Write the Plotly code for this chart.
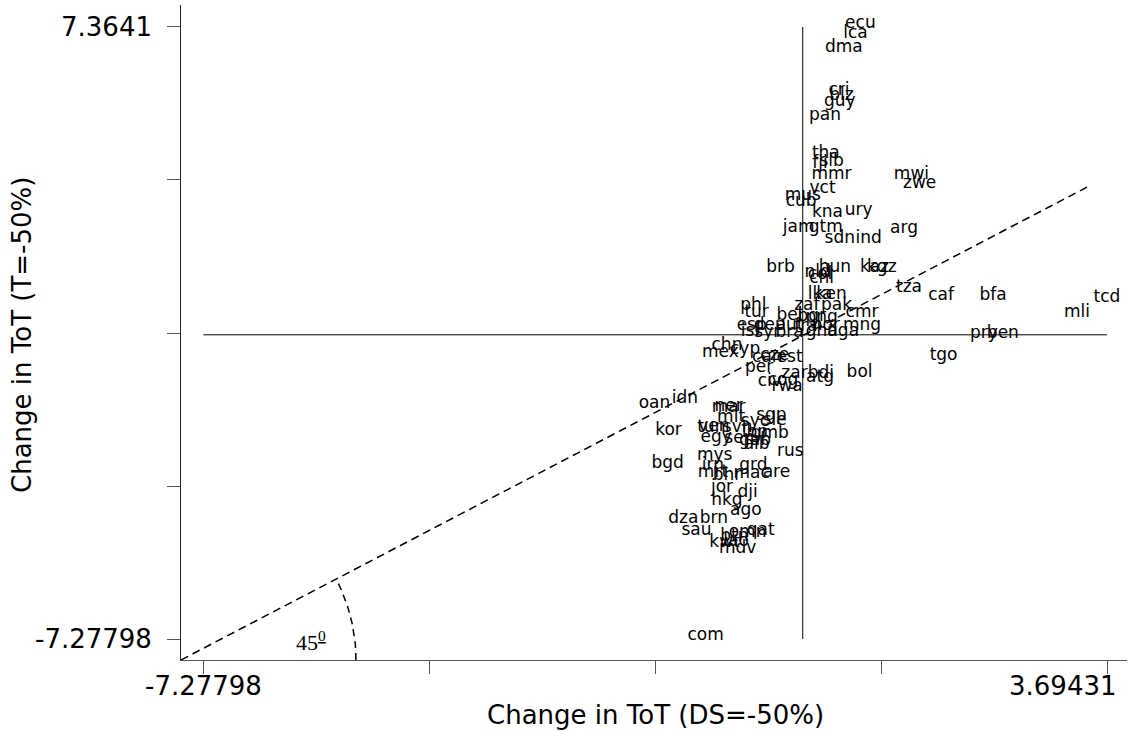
import numpy as np
import plotly.graph_objects as go

# ---- data: country codes, change in ToT under DS=-50% (x) and T=-50% (y)
codes = ["ecu", "lca", "dma", "cri", "blz", "guy", "pan", "tha", "fji", "slb",
         "mmr", "vct", "mus", "cub", "kna", "ury", "jam", "gtm", "sdn", "ind",
         "arg", "mwi", "zwe", "brb", "hun", "nld", "col", "kaz", "kgz", "chl",
         "lka", "ken", "phl", "zaf", "pak", "cmr", "tur", "bel", "bgr", "png",
         "esp", "deu", "aut", "fra", "nor", "mng", "isl", "syr", "bra", "uga",
         "gha", "chn", "mex", "cyp", "can", "cze", "est", "per", "zar", "bdi",
         "atg", "bol", "civ", "cog", "rwa", "oan", "idn", "mar", "ner", "mlt",
         "sgp", "sle", "syc", "tun", "ven", "kor", "svn", "gmb", "lbn", "egy",
         "sen", "gab", "alb", "rus", "mys", "bgd", "irn", "mrt", "grd", "are",
         "mac", "bhr", "jor", "dji", "hkg", "ago", "dza", "brn", "sau", "qat",
         "omn", "btn", "kwt", "mdv", "lao", "tza", "caf", "bfa", "tcd", "mli",
         "pry", "ben", "tgo", "com"]

x_ds = [0.70, 0.64, 0.50, 0.44, 0.47, 0.45, 0.27, 0.28, 0.21, 0.35,
        0.35, 0.24, 0.00, -0.02, 0.30, 0.68, -0.05, 0.28, 0.45, 0.80,
        1.23, 1.32, 1.42, -0.27, 0.39, 0.18, 0.21, 0.87, 0.96, 0.23,
        0.21, 0.35, -0.60, 0.05, 0.41, 0.72, -0.56, -0.16, 0.11, 0.23,
        -0.62, -0.40, -0.16, 0.04, 0.28, 0.72, -0.64, -0.43, -0.16, 0.49,
        0.23, -0.92, -1.00, -0.70, -0.43, -0.34, -0.16, -0.53, -0.10, 0.22,
        0.21, 0.69, -0.40, -0.24, -0.19, -1.80, -1.43, -0.90, -0.90, -0.87,
        -0.38, -0.34, -0.58, -1.11, -1.08, -1.63, -0.79, -0.40, -0.58, -1.05,
        -0.77, -0.58, -0.56, -0.15, -1.07, -1.64, -1.09, -1.09, -0.60, -0.32,
        -0.62, -0.92, -0.98, -0.67, -0.92, -0.69, -1.45, -1.08, -1.29, -0.51,
        -0.67, -0.83, -0.95, -0.79, -0.81, 1.29, 1.68, 2.31, 3.69431, 3.33,
        2.20, 2.43, 1.71, -1.18]

y_t = [7.3641, 7.12, 6.79, 5.76, 5.64, 5.50, 5.16, 4.25, 4.01, 4.06,
       3.75, 3.42, 3.25, 3.11, 2.84, 2.89, 2.48, 2.48, 2.22, 2.22,
       2.46, 3.75, 3.54, 1.53, 1.53, 1.41, 1.36, 1.53, 1.53, 1.26,
       0.88, 0.88, 0.62, 0.62, 0.62, 0.45, 0.45, 0.38, 0.35, 0.33,
       0.14, 0.14, 0.14, 0.11, 0.14, 0.14, -0.01, -0.03, -0.03, -0.01,
       -0.01, -0.34, -0.51, -0.44, -0.63, -0.58, -0.63, -0.87, -1.01, -1.01,
       -1.11, -0.99, -1.20, -1.18, -1.32, -1.73, -1.61, -1.82, -1.80, -2.06,
       -2.01, -2.13, -2.16, -2.30, -2.28, -2.37, -2.30, -2.45, -2.42, -2.54,
       -2.56, -2.61, -2.71, -2.88, -2.97, -3.16, -3.21, -3.38, -3.21, -3.38,
       -3.40, -3.45, -3.74, -3.86, -4.05, -4.29, -4.48, -4.48, -4.77, -4.77,
       -4.81, -4.91, -5.05, -5.20, -5.03, 1.05, 0.86, 0.86, 0.81, 0.45,
       -0.05, -0.05, -0.58, -7.27798]

# axis limits and end tick labels
x_lo, x_hi = -7.27798, 3.69431
y_lo, y_hi = -7.27798, 7.3641
x_end_labels = ["-7.27798", "3.69431"]
y_end_labels = ["-7.27798", "7.3641"]
x_range = [-7.549, 3.937]
y_range = [-7.780, 7.890]
line45_end = (3.46, 3.54)

FONT = "DejaVu Sans"
ml, mr, mt, mb = 181, 5, 5, 72
W, H = 1132, 732
PW, PH = W - ml - mr, H - mt - mb

px_x = PW / (x_range[1] - x_range[0])
px_y = PH / (y_range[1] - y_range[0])

fig = go.Figure()

# reference lines at zero
fig.add_trace(go.Scatter(x=[x_lo, x_hi], y=[0, 0], mode="lines",
                         line=dict(color="black", width=1), hoverinfo="skip"))
fig.add_trace(go.Scatter(x=[0, 0], y=[y_lo, y_hi], mode="lines",
                         line=dict(color="black", width=1), hoverinfo="skip"))

# 45-degree dashed line from the axes corner
fig.add_trace(go.Scatter(x=[x_range[0], line45_end[0]], y=[y_range[0], line45_end[1]],
                         mode="lines", line=dict(color="black", width=1.5, dash="8px,5px"),
                         hoverinfo="skip"))

# dashed arc marking the angle
rad_px = 175
ang_end = np.arctan2((line45_end[1] - y_range[0]) * px_y, (line45_end[0] - x_range[0]) * px_x)
th = np.linspace(0, ang_end, 40)
fig.add_trace(go.Scatter(x=x_range[0] + rad_px * np.cos(th) / px_x,
                         y=y_range[0] + rad_px * np.sin(th) / px_y,
                         mode="lines", line=dict(color="black", width=1.5, dash="7px,5px"),
                         hoverinfo="skip"))

# country labels (on an overlaid axis nudged 3px so the text baseline sits on the value)
nudge = 3 / px_y
fig.add_trace(go.Scatter(x=x_ds, y=y_t, mode="text", text=codes, yaxis="y2",
                         textposition="middle center",
                         textfont=dict(family=FONT, size=17, color="black"),
                         hoverinfo="text"))

x_tick_vals = list(np.linspace(x_lo, x_hi, 5))
y_tick_vals = list(np.linspace(y_lo, y_hi, 5))
tick_font = dict(family=FONT, size=26, color="black")

# x end tick labels (the right one kept inside the page)
fig.add_annotation(x=x_lo, y=(660 - 686) / PH, xref="x", yref="paper",
                   text=x_end_labels[0], showarrow=False, xanchor="center",
                   yanchor="middle", font=tick_font)
fig.add_annotation(x=x_hi, y=(660 - 686) / PH, xref="x", yref="paper",
                   text=x_end_labels[1], showarrow=False, xanchor="right",
                   yanchor="middle", xshift=12, font=tick_font)
# y end tick labels
fig.add_annotation(x=(154 - ml) / PW, y=y_lo, xref="paper", yref="y",
                   text=y_end_labels[0], showarrow=False, xanchor="right",
                   yanchor="middle", font=tick_font)
fig.add_annotation(x=(154 - ml) / PW, y=y_hi, xref="paper", yref="y",
                   text=y_end_labels[1], showarrow=False, xanchor="right",
                   yanchor="middle", font=tick_font)

fig.add_annotation(x=(294 - ml) / PW, y=(660 - 641) / PH,
                   xref="paper", yref="paper", xanchor="left", yanchor="middle",
                   text="45<sup><u>0</u></sup>", showarrow=False,
                   font=dict(family="Liberation Serif", size=22, color="black"))
fig.add_annotation(x=(655 - ml) / PW, y=(660 - 715) / PH,
                   xref="paper", yref="paper", text="Change in ToT (DS=-50%)",
                   showarrow=False, yanchor="middle",
                   font=dict(family=FONT, size=26, color="black"))
fig.add_annotation(x=(22 - ml) / PW, y=(660 - 335) / PH,
                   xref="paper", yref="paper", text="Change in ToT (T=-50%)",
                   showarrow=False, textangle=-90, xanchor="center",
                   font=dict(family=FONT, size=26, color="black"))

fig.update_layout(
    width=W, height=H, showlegend=False,
    margin=dict(l=ml, r=mr, t=mt, b=mb),
    plot_bgcolor="white", paper_bgcolor="white",
    xaxis=dict(range=x_range, showgrid=False, zeroline=False, showline=True,
               linecolor="#555", linewidth=1, ticks="outside", ticklen=13,
               tickcolor="#555", tickvals=x_tick_vals, showticklabels=False),
    yaxis=dict(range=y_range, showgrid=False, zeroline=False, showline=True,
               linecolor="#222", linewidth=1, ticks="outside", ticklen=13,
               tickcolor="#555", tickvals=y_tick_vals, showticklabels=False),
    yaxis2=dict(range=[y_range[0] - nudge, y_range[1] - nudge], overlaying="y",
                visible=False, showgrid=False, zeroline=False),
)

fig.write_html("out.html", config={"displayModeBar": False},
               post_script="document.body.style.margin='0px';")
